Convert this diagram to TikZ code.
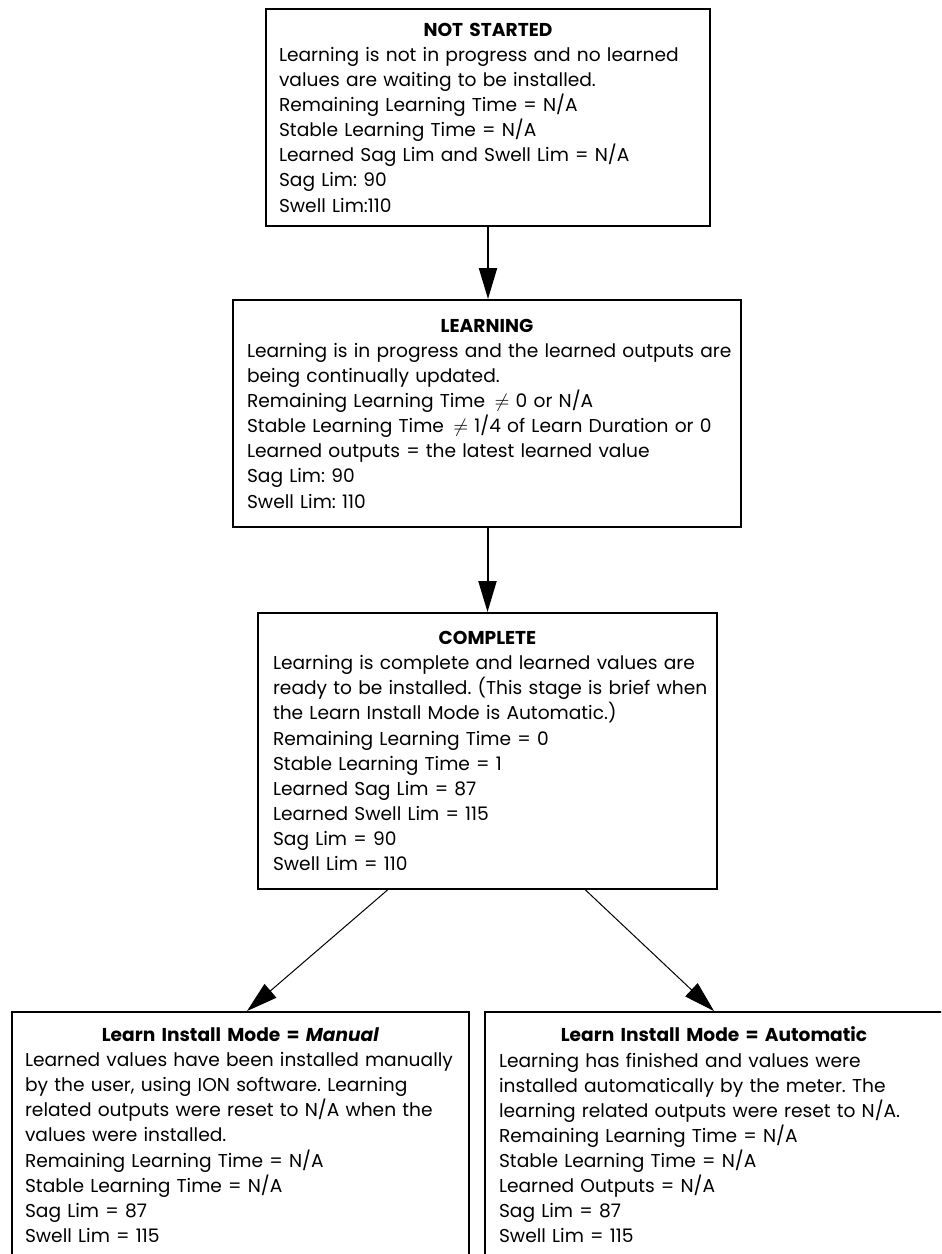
\documentclass[tikz,border=0pt]{standalone}
\usepackage{fontspec}
\setmainfont{Poppins}
\usepackage{tikz}
\usetikzlibrary{arrows.meta}
\setlength{\parindent}{0pt}
\frenchspacing
% body lines of a stage, never wrapped
\newcommand{\stagelines}[1]{\raisebox{0pt}[\height][\dimexpr\depth-0.3\baselineskip\relax]{\begin{tabular}[t]{@{}l@{}}#1\end{tabular}}}

\begin{document}
\begin{tikzpicture}[x=0.02cm,y=-0.02cm,>={Triangle[length=0.62cm,width=0.36cm]},
  stagebox/.style={draw,line width=0.04cm,inner sep=0pt,align=left,
    font=\fontsize{10.6pt}{14.3pt}\selectfont},
  flow/.style={->,line width=0.04cm},
  branch/.style={->,line width=0.02cm}]
  \clip (0,0) rectangle (941,1254);
  % stages
  \node[stagebox,minimum width=8.88cm,minimum height=4.34cm,text width=8.36cm] (notstarted) at (488,117.5)
    {{\centering\bfseries NOT STARTED\par}
     \stagelines{Learning is not in progress and no learned\\
     values are waiting to be installed.\\
     Remaining Learning Time = N/A\\
     Stable Learning Time = N/A\\
     Learned Sag Lim and Swell Lim = N/A\\
     Sag Lim: 90\\
     Swell Lim:110}};
  \node[stagebox,minimum width=10.16cm,minimum height=4.54cm,text width=9.6cm] (learning) at (487,413.5)
    {{\centering\bfseries LEARNING\par}
     \stagelines{Learning is in progress and the learned outputs are\\
     being continually updated.\\
     Remaining Learning Time \,$\neq$ 0 or N/A\\
     Stable Learning Time \,$\neq$ 1/4 of Learn Duration or 0\\
     Learned outputs = the latest learned value\\
     Sag Lim: 90\\
     Swell Lim: 110}};
  \node[stagebox,minimum width=9.18cm,minimum height=5.52cm,text width=8.58cm] (complete) at (487.5,751)
    {{\centering\bfseries COMPLETE\par}
     \stagelines{Learning is complete and learned values are\\
     ready to be installed. (This stage is brief when\\
     the Learn Install Mode is Automatic.)\\
     Remaining Learning Time = 0\\
     Stable Learning Time = 1\\
     Learned Sag Lim = 87\\
     Learned Swell Lim = 115\\
     Sag Lim = 90\\
     Swell Lim = 110}};
  \node[stagebox,minimum width=9.14cm,minimum height=4.92cm,text width=8.62cm] (manual) at (240.5,1135)
    {{\centering\bfseries Learn Install Mode = \textit{Manual}\par}
     \stagelines{Learned values have been installed manually\\
     by the user, using ION software. Learning\\
     related outputs were reset to N/A when the\\
     values were installed.\\
     Remaining Learning Time = N/A\\
     Stable Learning Time = N/A\\
     Sag Lim = 87\\
     Swell Lim = 115}};
  \node[stagebox,minimum width=9.16cm,minimum height=4.92cm,text width=8.6cm] (automatic) at (714,1135)
    {{\centering\bfseries Learn Install Mode = Automatic\par}
     \stagelines{Learning has finished and values were\\
     installed automatically by the meter. The\\
     learning related outputs were reset to N/A.\\
     Remaining Learning Time = N/A\\
     Stable Learning Time = N/A\\
     Learned Outputs = N/A\\
     Sag Lim = 87\\
     Swell Lim = 115}};
  % transitions
  \draw[flow] (notstarted.south) -- (notstarted.south |- learning.north);
  \draw[flow] (learning.south -| complete.north) -- (complete.north);
  \draw[branch] ([xshift=-2cm]complete.south) -- ([xshift=0.13cm]manual.north);
  \draw[branch] ([xshift=1.96cm]complete.south) -- (automatic.north);
\end{tikzpicture}
\end{document}
